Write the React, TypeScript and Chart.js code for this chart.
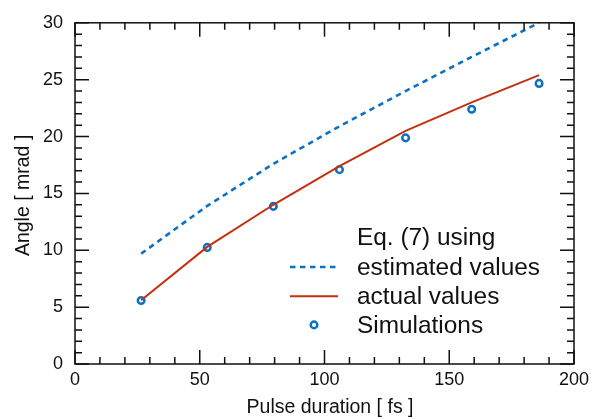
import { useEffect, useRef } from "react";
import { Chart, registerables } from "chart.js";

Chart.register(...registerables);

// Pulse duration (fs) of each computed case
const pulseDurations = [26.5, 53, 79.5, 106, 132.5, 159, 186];
// Eq. (7) evaluated with estimated parameters (mrad)
const estimatedAngles = [9.7, 13.9, 17.6, 20.9, 24.0, 27.0, 30.0];
// Eq. (7) evaluated with actual parameters (mrad)
const actualAngles = [5.6, 10.3, 14.0, 17.4, 20.5, 23.0, 25.4];
// Simulation results (mrad)
const simulatedAngles = [5.58, 10.25, 13.86, 17.09, 19.88, 22.4, 24.67];

const legendHeading = "Eq. (7) using";
const seriesLabels = ["estimated values", "actual values", "Simulations"];
const xTitle = "Pulse duration [ fs ]";
const yTitle = "Angle [ mrad ]";
const xTicks = [0, 50, 100, 150, 200];
const yTicks = [0, 5, 10, 15, 20, 25, 30];

const FONT = "'Liberation Sans', Arial, Helvetica, sans-serif";
const BLUE = "#0a72c0";
const RED = "#c4300e";
const INK = "#111";

// Box frame with inward major/minor ticks on all four sides, plus axis titles
const framePlugin = {
  id: "frame",
  afterDatasetsDraw(chart: any) {
    const { ctx, chartArea: a, scales } = chart;
    const xs = scales.x;
    const ys = scales.y;
    ctx.save();
    ctx.strokeStyle = INK;
    ctx.lineWidth = 1.5;
    ctx.strokeRect(a.left, a.top, a.right - a.left, a.bottom - a.top);
    ctx.beginPath();
    for (let v = xs.min; v <= xs.max; v += 10) {
      const px = xs.getPixelForValue(v);
      const len = v % 50 === 0 ? 14 : 7;
      ctx.moveTo(px, a.bottom);
      ctx.lineTo(px, a.bottom - len);
      ctx.moveTo(px, a.top);
      ctx.lineTo(px, a.top + len);
    }
    for (let v = ys.min; v <= ys.max; v += 1) {
      const py = ys.getPixelForValue(v);
      const len = v % 5 === 0 ? 14 : 7;
      ctx.moveTo(a.left, py);
      ctx.lineTo(a.left + len, py);
      ctx.moveTo(a.right, py);
      ctx.lineTo(a.right - len, py);
    }
    ctx.stroke();

    ctx.fillStyle = INK;
    ctx.font = `19.5px ${FONT}`;
    ctx.textAlign = "center";
    ctx.textBaseline = "alphabetic";
    ctx.fillText(xTitle, (a.left + a.right) / 2 + 5.5, a.bottom + 49);
    ctx.translate(29, (a.top + a.bottom) / 2 + 2);
    ctx.rotate(-Math.PI / 2);
    ctx.fillText(yTitle, 0, 0);
    ctx.restore();
  },
};

// Legend placed inside the plot area, with a heading line
const legendPlugin = {
  id: "insideLegend",
  afterDraw(chart: any) {
    const { ctx, chartArea: a } = chart;
    const sets = chart.data.datasets;
    const textX = a.left + 282;
    const lineX0 = a.left + 215;
    const lineX1 = a.left + 263;
    const baseY = a.top + 222.5;
    const step = 29.2;
    ctx.save();
    ctx.font = `24.4px ${FONT}`;
    ctx.fillStyle = INK;
    ctx.textBaseline = "alphabetic";
    ctx.textAlign = "left";
    ctx.fillText(legendHeading, textX, baseY);
    sets.forEach((ds: any, i: number) => {
      const by = baseY + step * (i + 1);
      const my = by - 7.5;
      ctx.fillStyle = INK;
      ctx.fillText(ds.label, textX, by);
      if (ds.showLine === false) {
        ctx.beginPath();
        ctx.arc((lineX0 + lineX1) / 2, my - 0.5, ds.pointRadius, 0, Math.PI * 2);
        ctx.strokeStyle = ds.pointBorderColor;
        ctx.lineWidth = ds.pointBorderWidth;
        ctx.stroke();
      } else {
        ctx.beginPath();
        ctx.setLineDash(ds.borderDash || []);
        ctx.strokeStyle = ds.borderColor;
        ctx.lineWidth = ds.borderWidth;
        ctx.moveTo(lineX0, my);
        ctx.lineTo(lineX1, my);
        ctx.stroke();
        ctx.setLineDash([]);
      }
    });
    ctx.restore();
  },
};

export default function App() {
  const ref = useRef<HTMLCanvasElement>(null);

  useEffect(() => {
    const canvas = ref.current;
    if (!canvas) return;
    const toPoints = (ys: number[]) => pulseDurations.map((x, i) => ({ x, y: ys[i] }));
    const chart = new Chart(canvas, {
      type: "line",
      data: {
        datasets: [
          {
            label: seriesLabels[0],
            data: toPoints(estimatedAngles),
            borderColor: BLUE,
            borderWidth: 2.6,
            borderDash: [5.5, 4.5],
            pointRadius: 0,
            tension: 0,
            fill: false,
          },
          {
            label: seriesLabels[1],
            data: toPoints(actualAngles),
            borderColor: RED,
            borderWidth: 2,
            pointRadius: 0,
            tension: 0,
            fill: false,
          },
          {
            label: seriesLabels[2],
            data: toPoints(simulatedAngles),
            showLine: false,
            pointRadius: 3.3,
            pointBorderWidth: 2.5,
            pointBorderColor: BLUE,
            pointBackgroundColor: "rgba(0,0,0,0)",
            borderColor: BLUE,
          },
        ],
      },
      options: {
        animation: false,
        responsive: false,
        devicePixelRatio: 1,
        layout: { padding: { top: 20, right: 27, left: 0, bottom: 0 } },
        plugins: {
          legend: { display: false },
          tooltip: { enabled: false },
        },
        scales: {
          x: {
            type: "linear",
            min: 0,
            max: 200,
            afterBuildTicks: (s: any) => {
              s.ticks = xTicks.map((v) => ({ value: v }));
            },
            afterFit: (s: any) => {
              s.height = 55;
            },
            grid: { display: false, drawTicks: false },
            border: { display: false },
            ticks: {
              color: INK,
              padding: 5,
              maxRotation: 0,
              font: { family: FONT, size: 18 },
            },
            title: { display: false },
          },
          y: {
            type: "linear",
            min: 0,
            max: 30,
            afterBuildTicks: (s: any) => {
              s.ticks = yTicks.map((v) => ({ value: v }));
            },
            afterFit: (s: any) => {
              s.width = 75;
            },
            grid: { display: false, drawTicks: false },
            border: { display: false },
            ticks: {
              color: INK,
              padding: 12,
              font: { family: FONT, size: 18 },
            },
            title: { display: false },
          },
        },
      },
      plugins: [framePlugin, legendPlugin],
    } as any);
    return () => chart.destroy();
  }, []);

  return (
    <div style={{ position: "absolute", left: 0, top: 0, width: 601, height: 419, background: "#fff" }}>
      <canvas ref={ref} width={601} height={419} style={{ display: "block" }} />
    </div>
  );
}
